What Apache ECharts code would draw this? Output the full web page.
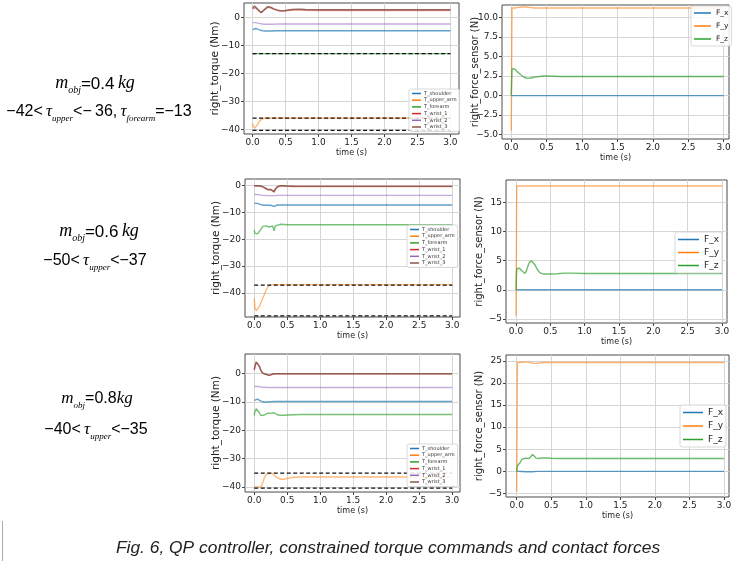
<!DOCTYPE html>
<html><head><meta charset="utf-8">
<script src="https://cdn.jsdelivr.net/npm/echarts@6/dist/echarts.min.js"></script>
<style>html,body{margin:0;padding:0;background:#fff}#c{width:740px;height:561px}</style>
</head><body><div id="c"></div>
<script>
// ---------- data ----------
const TIMES = [0,0.01,0.03,0.05,0.08,0.1,0.13,0.15,0.18,0.2,0.23,0.25,0.28,0.3,0.32,0.35,0.4,0.45,0.5,0.6,0.7,0.8,1.0,2.0,3.0];
const X_TICKS = [0,0.5,1,1.5,2,2.5,3];
const TORQUE_TICKS = [-40,-30,-20,-10,0];
const FORCE1_TICKS = [-5,-2.5,0,2.5,5,7.5,10];
const FORCE2_TICKS = [-5,0,5,10,15];
const FORCE3_TICKS = [-5,0,5,10,15,20,25];
const TORQUE_NAMES = ['T_shoulder','T_upper_arm','T_forearm','T_wrist_1','T_wrist_2','T_wrist_3'];
const FORCE_NAMES = ['F_x','F_y','F_z'];

// row 1 (m = 0.4 kg)
const r1_shoulder = [-4.4,-4.2,-3.9,-4.0,-4.3,-4.5,-4.7,-4.8,-4.9,-4.9,-4.9,-4.9,-4.9,-4.9,-4.85,-4.8,-4.8,-4.8,-4.8,-4.8,-4.8,-4.8,-4.8,-4.8,-4.8];
const r1_upper = [-37.9,-38.8,-39.7,-39.4,-38.2,-37.3,-36.5,-36.2,-36.0,-36.0,-36.0,-36.0,-36.0,-36.0,-36.0,-36.0,-36.0,-36.0,-36.0,-36.0,-36.0,-36.0,-36.0,-36.0,-36.0];
const r1_forearm = [-13.1,-13.1,-13.0,-13.0,-13.0,-13.0,-13.0,-13.0,-13.0,-13.0,-13.0,-13.0,-13.0,-13.0,-13.0,-13.0,-13.0,-13.0,-13.0,-13.0,-13.0,-13.0,-13.0,-13.0,-13.0];
const r1_wrist1 = [3.0,3.3,3.7,3.4,2.6,2.0,1.6,1.8,2.6,3.2,3.6,3.6,3.4,3.1,2.9,2.6,2.3,2.2,2.3,2.6,2.6,2.5,2.4,2.4,2.4];
const r1_wrist2 = [-1.9,-1.8,-1.8,-1.9,-2.1,-2.2,-2.3,-2.4,-2.5,-2.5,-2.5,-2.5,-2.5,-2.5,-2.5,-2.45,-2.4,-2.4,-2.4,-2.4,-2.4,-2.4,-2.4,-2.4,-2.4];
const r1_wrist3 = [3.2,3.6,4.0,3.6,2.8,2.2,1.7,1.9,2.8,3.4,3.8,3.7,3.5,3.2,3.0,2.7,2.4,2.3,2.4,2.8,2.9,2.8,2.7,2.7,2.7];
const r1_limits = [-13,-36,-40.4];
const r1_fx = [0,0,0,0,0,0,0,0,0,0,0,0,0,0,0,0,0,0,0,0,0,0,0,0,0];
const r1_fy = [-4.5,11.2,11.2,11.2,11.25,11.3,11.3,11.3,11.35,11.35,11.3,11.3,11.25,11.2,11.2,11.2,11.2,11.2,11.2,11.2,11.2,11.2,11.2,11.2,11.2];
const r1_fz = [0,3.4,3.5,3.4,3.1,2.9,2.7,2.55,2.35,2.25,2.2,2.2,2.25,2.3,2.35,2.4,2.45,2.5,2.5,2.48,2.45,2.45,2.45,2.45,2.45];

// row 2 (m = 0.6 kg)
const r2_shoulder = [-6.6,-6.5,-6.5,-6.6,-6.9,-7.1,-7.3,-7.3,-7.3,-7.3,-7.3,-7.3,-7.4,-7.7,-7.4,-7.2,-7.2,-7.2,-7.2,-7.2,-7.2,-7.2,-7.2,-7.2,-7.2];
const r2_upper = [-42,-45.5,-46.7,-46.3,-45.0,-43.8,-42.0,-40.8,-39.0,-38.0,-37.2,-37.0,-36.9,-36.9,-36.9,-36.9,-36.9,-36.9,-36.9,-36.9,-36.9,-36.9,-36.9,-36.9,-36.9];
const r2_forearm = [-16.5,-17.8,-18.3,-18.0,-17.3,-16.3,-15.2,-14.6,-15.0,-15.6,-15.4,-15.1,-15.0,-16.8,-15.0,-14.5,-14.4,-14.5,-14.6,-14.6,-14.6,-14.6,-14.6,-14.6,-14.6];
const r2_wrist1 = [0,0,0,-0.1,-0.1,-0.2,-0.4,-0.7,-1.2,-1.5,-1.6,-1.5,-1.4,-2.4,-1.3,-0.5,-0.1,-0.1,-0.2,-0.3,-0.3,-0.3,-0.3,-0.3,-0.3];
const r2_wrist2 = [-3.3,-3.3,-3.3,-3.3,-3.4,-3.5,-3.6,-3.6,-3.7,-3.7,-3.7,-3.7,-3.7,-3.7,-3.7,-3.6,-3.6,-3.6,-3.6,-3.6,-3.6,-3.6,-3.6,-3.6,-3.6];
const r2_wrist3 = [0,0.1,0.1,0,0,-0.1,-0.3,-0.6,-1.1,-1.4,-1.5,-1.4,-1.3,-2.2,-1.2,-0.4,0,0,-0.1,-0.2,-0.25,-0.25,-0.25,-0.25,-0.25];
const r2_limits = [-37.1,-48.6];
const r2_fx = [0,0,0,0,0,0,0,0,0,0,0,0,0,0,0,0,0,0,0,0,0,0,0,0,0];
const r2_fy = [-4.5,17.8,17.8,17.8,17.8,17.8,17.8,17.8,17.8,17.8,17.8,17.8,17.8,17.8,17.8,17.8,17.8,17.8,17.8,17.8,17.8,17.8,17.8,17.8,17.8];
const r2_fz = [0,3.6,3.8,3.7,3.3,3.0,2.8,3.2,4.3,4.8,4.9,4.7,4.2,3.7,3.3,2.9,2.7,2.7,2.7,2.75,2.85,2.85,2.8,2.8,2.8];

// row 3 (m = 0.8 kg)
const r3_shoulder = [-9.4,-9.2,-8.9,-9.0,-9.4,-9.7,-9.9,-10.0,-10.0,-10.0,-9.95,-9.9,-9.85,-9.8,-9.8,-9.8,-9.8,-9.8,-9.8,-9.8,-9.8,-9.8,-9.8,-9.8,-9.8];
const r3_upper = [-40,-40,-40,-40,-40,-40,-38.5,-37.0,-35.6,-35.1,-35.1,-35.1,-35.3,-35.8,-36.3,-36.9,-37.3,-37.3,-37.0,-36.6,-36.5,-36.5,-36.5,-36.5,-36.5];
const r3_forearm = [-14.8,-13.5,-12.4,-12.8,-13.9,-14.8,-15.3,-14.6,-13.9,-14.0,-14.2,-14.0,-13.7,-13.8,-14.1,-14.5,-14.7,-14.7,-14.6,-14.5,-14.4,-14.4,-14.4,-14.4,-14.4];
const r3_wrist1 = [1.3,2.4,4.0,3.6,2.4,1.1,0.1,-0.1,-0.3,-0.5,-0.6,-0.5,-0.2,-0.1,0,0,0,0,0,0,0,0,0,0,0];
const r3_wrist2 = [-4.5,-4.5,-4.5,-4.5,-4.6,-4.7,-4.8,-4.8,-4.9,-4.9,-4.9,-4.9,-4.9,-4.9,-4.9,-4.9,-4.9,-4.9,-4.9,-4.9,-4.9,-4.9,-4.9,-4.9,-4.9];
const r3_wrist3 = [1.4,2.5,4.2,3.8,2.6,1.2,0.2,0,-0.2,-0.4,-0.6,-0.5,-0.1,0,0,0,0,0,0,0,0,0,0,0,0];
const r3_limits = [-35.1,-40.4];
const r3_fx = [0,0,0,0,-0.05,-0.1,-0.1,-0.1,-0.1,-0.1,-0.1,-0.05,0,0,0,0,0,0,0,0,0,0,0,0,0];
const r3_fy = [-4.6,24.6,24.6,24.6,24.65,24.7,24.7,24.7,24.7,24.6,24.45,24.4,24.4,24.45,24.5,24.55,24.6,24.6,24.6,24.6,24.6,24.6,24.6,24.6,24.6];
const r3_fz = [0,1.2,1.0,2.0,2.8,3.1,3.0,2.8,2.9,3.2,3.8,3.7,3.0,2.8,2.9,3.0,3.0,3.0,2.95,2.9,2.9,2.9,2.9,2.9,2.9];

// ---------- styling ----------
const TORQUE_COLORS = ['#1f77b4','#ff7f0e','#2ca02c','#d62728','#9467bd','#8c564b'];
const TORQUE_OPAC = [0.7,0.55,0.65,0.5,0.55,0.9];
const FORCE_COLORS = ['#1f77b4','#ff7f0e','#2ca02c'];
const FORCE_OPAC = [0.7,0.6,0.7];

const minus = v => (v < 0 ? '\u2212' : '') ;
const fmt = d => v => minus(v) + Math.abs(v).toFixed(d);

const panels = [
  {kind:'t', grid:{left:244,top:3,width:215,height:131}, x:[-0.13,3.13], y:[-41.7,5.1], ticks:TORQUE_TICKS, dec:0,
   data:[r1_shoulder,r1_upper,r1_forearm,r1_wrist1,r1_wrist2,r1_wrist3], limits:r1_limits,
   legend:{left:409,top:89}},
  {kind:'f', grid:{left:502,top:5,width:227,height:134}, x:[-0.131,3.075], y:[-5.55,11.59], ticks:FORCE1_TICKS, dec:1,
   data:[r1_fx,r1_fy,r1_fz], legend:{left:691,top:6, fs:7.5, iw:17, gap:5}},
  {kind:'t', grid:{left:245,top:179,width:215,height:138}, x:[-0.14,3.117], y:[-49,2.5], ticks:TORQUE_TICKS, dec:0,
   data:[r2_shoulder,r2_upper,r2_forearm,r2_wrist1,r2_wrist2,r2_wrist3], limits:r2_limits,
   legend:{left:407,top:225}},
  {kind:'f', grid:{left:506,top:180,width:221,height:143}, x:[-0.146,3.073], y:[-5.69,18.82], ticks:FORCE2_TICKS, dec:0,
   data:[r2_fx,r2_fy,r2_fz], legend:{left:675,top:232, fs:9, iw:21, gap:4}},
  {kind:'t', grid:{left:245,top:354,width:215,height:138}, x:[-0.14,3.12], y:[-41.8,6.96], ticks:TORQUE_TICKS, dec:0,
   data:[r3_shoulder,r3_upper,r3_forearm,r3_wrist1,r3_wrist2,r3_wrist3], limits:r3_limits,
   legend:{left:407,top:444}},
  {kind:'f', grid:{left:506,top:355,width:223,height:142}, x:[-0.155,3.072], y:[-5.8,26.3], ticks:FORCE3_TICKS, dec:0,
   data:[r3_fx,r3_fy,r3_fz], legend:{left:680,top:405, fs:9, iw:20, gap:4.5}}
];

const grids=[], xAxes=[], yAxes=[], series=[], legends=[];
const FONT = 'DejaVu Sans';
panels.forEach((p,i)=>{
  grids.push(Object.assign({show:true, borderColor:'#4a4a4a', borderWidth:1, backgroundColor:'transparent'}, p.grid));
  xAxes.push({type:'value', gridIndex:i, min:p.x[0], max:p.x[1],
    axisLine:{show:false, onZero:false},
    axisTick:{show:true, length:3, lineStyle:{color:'#444'}, customValues:X_TICKS},
    axisLabel:{customValues:X_TICKS, formatter:fmt(1), fontSize:9, color:'#222', margin:4, fontFamily:FONT},
    splitLine:{show:true, lineStyle:{color:'#d6d6d6', width:1}},
    name:'time (s)', nameLocation:'middle', nameGap:15, nameMoveOverlap:false,
    nameTextStyle:{fontSize:8, fontFamily:FONT, color:'#222'}});
  yAxes.push({type:'value', gridIndex:i, min:p.y[0], max:p.y[1],
    axisLine:{show:false, onZero:false},
    axisTick:{show:true, length:3, lineStyle:{color:'#444'}, customValues:p.ticks},
    axisLabel:{customValues:p.ticks, formatter:fmt(p.dec), fontSize:9, color:'#222', margin:4, fontFamily:FONT},
    splitLine:{show:true, lineStyle:{color:'#d6d6d6', width:1}},
    name: p.kind==='t' ? 'right_torque (Nm)' : 'right_force_sensor (N)',
    nameLocation:'middle', nameGap: p.kind==='t' ? 23 : 22, nameMoveOverlap:false,
    nameTextStyle:{fontSize: p.kind==='t' ? 10.5 : 10, fontFamily:FONT, color:'#222'}});
  const names = p.kind==='t' ? TORQUE_NAMES : FORCE_NAMES;
  const cols = p.kind==='t' ? TORQUE_COLORS : FORCE_COLORS;
  const ops = p.kind==='t' ? TORQUE_OPAC : FORCE_OPAC;
  p.data.forEach((vals,k)=>{
    series.push({type:'line', name:names[k], xAxisIndex:i, yAxisIndex:i, showSymbol:false, symbol:'none',
      color:cols[k], lineStyle:{width:1.4, opacity:ops[k]}, z:2+k, animation:false,
      data: TIMES.map((t,j)=>[t, vals[j]])});
  });
  if (p.limits) p.limits.forEach(v=>{
    series.push({type:'line', name:'limit', xAxisIndex:i, yAxisIndex:i, showSymbol:false, symbol:'none',
      color:'#000', lineStyle:{width:1.2, type:[4,2.5], color:'#111'}, z:20, animation:false,
      data:[[0,v],[3,v]]});
  });
  if (p.kind==='t') {
    legends.push({orient:'vertical', left:p.legend.left, top:p.legend.top, data:TORQUE_NAMES, selectedMode:false,
      icon:'rect', itemWidth:9, itemHeight:1.5, itemGap:1.7, z:50,
      textStyle:{fontSize:5, fontFamily:FONT, color:'#333', padding:[0,0,0,-2]},
      backgroundColor:'rgba(255,255,255,0.85)', borderColor:'#cfcfcf', borderWidth:0.8, borderRadius:2, padding:[2,3,2,3]});
  } else {
    legends.push({orient:'vertical', left:p.legend.left, top:p.legend.top, data:FORCE_NAMES, selectedMode:false,
      icon:'rect', itemWidth:p.legend.iw, itemHeight:1.5, itemGap:p.legend.gap, z:50,
      textStyle:{fontSize:p.legend.fs, fontFamily:FONT, color:'#222'},
      backgroundColor:'rgba(255,255,255,0.85)', borderColor:'#cfcfcf', borderWidth:0.8, borderRadius:2, padding:[3,3,3,3]});
  }
});

function richFor(S){
  const ss = Math.round(S*0.56);
  return {
    v:{fontFamily:'Liberation Serif', fontStyle:'italic', fontSize:S+1, lineHeight:S+2, padding:[0,0,3,0], verticalAlign:'bottom', fill:'#000'},
    n:{fontFamily:'Liberation Sans', fontSize:S, lineHeight:S+2, padding:[0,0,3,0], verticalAlign:'bottom', fill:'#000'},
    s:{fontFamily:'Liberation Serif', fontStyle:'italic', fontSize:ss, lineHeight:ss+2, verticalAlign:'bottom', fill:'#000'}
  };
}
function mtext(x,y,text,S){
  return {type:'text', x:x, y:y, style:{text:text, rich:richFor(S), align:'center', verticalAlign:'middle', fill:'#000'}};
}
const graphics = [
  mtext(95,86,'{v|m}{s|obj}{n|=0.4\u2009}{v|kg}',17),
  mtext(99,114,'{n|\u221242<\u2009}{v|\u03c4}{s|upper}{n|<\u2212\u200936,\u2009}{v|\u03c4}{s|forearm}{n|=\u221213}',16),
  mtext(99,234,'{v|m}{s|obj}{n|=0.6\u2009}{v|kg}',17),
  mtext(95,263,'{n|\u221250<\u2009}{v|\u03c4}{s|upper}{n|<\u221237}',16),
  mtext(97,401,'{v|m}{s|obj}{n|=0.8}{v|kg}',16),
  mtext(96,432,'{n|\u221240<\u2009}{v|\u03c4}{s|upper}{n|<\u221235}',16),
  {type:'text', x:388, y:548, style:{text:'Fig. 6, QP controller, constrained torque commands and contact forces',
    font:'italic 17.4px "Liberation Sans"', fill:'#222', align:'center', verticalAlign:'middle'}},
  {type:'line', shape:{x1:2.5,y1:521,x2:2.5,y2:561}, style:{stroke:'#aaa', lineWidth:1}}
];

const chart = echarts.init(document.getElementById('c'), null, {renderer:'canvas'});
chart.setOption({animation:false, backgroundColor:'#fff', grid:grids, xAxis:xAxes, yAxis:yAxes, series:series, legend:legends, graphic:graphics});
</script></body></html>
